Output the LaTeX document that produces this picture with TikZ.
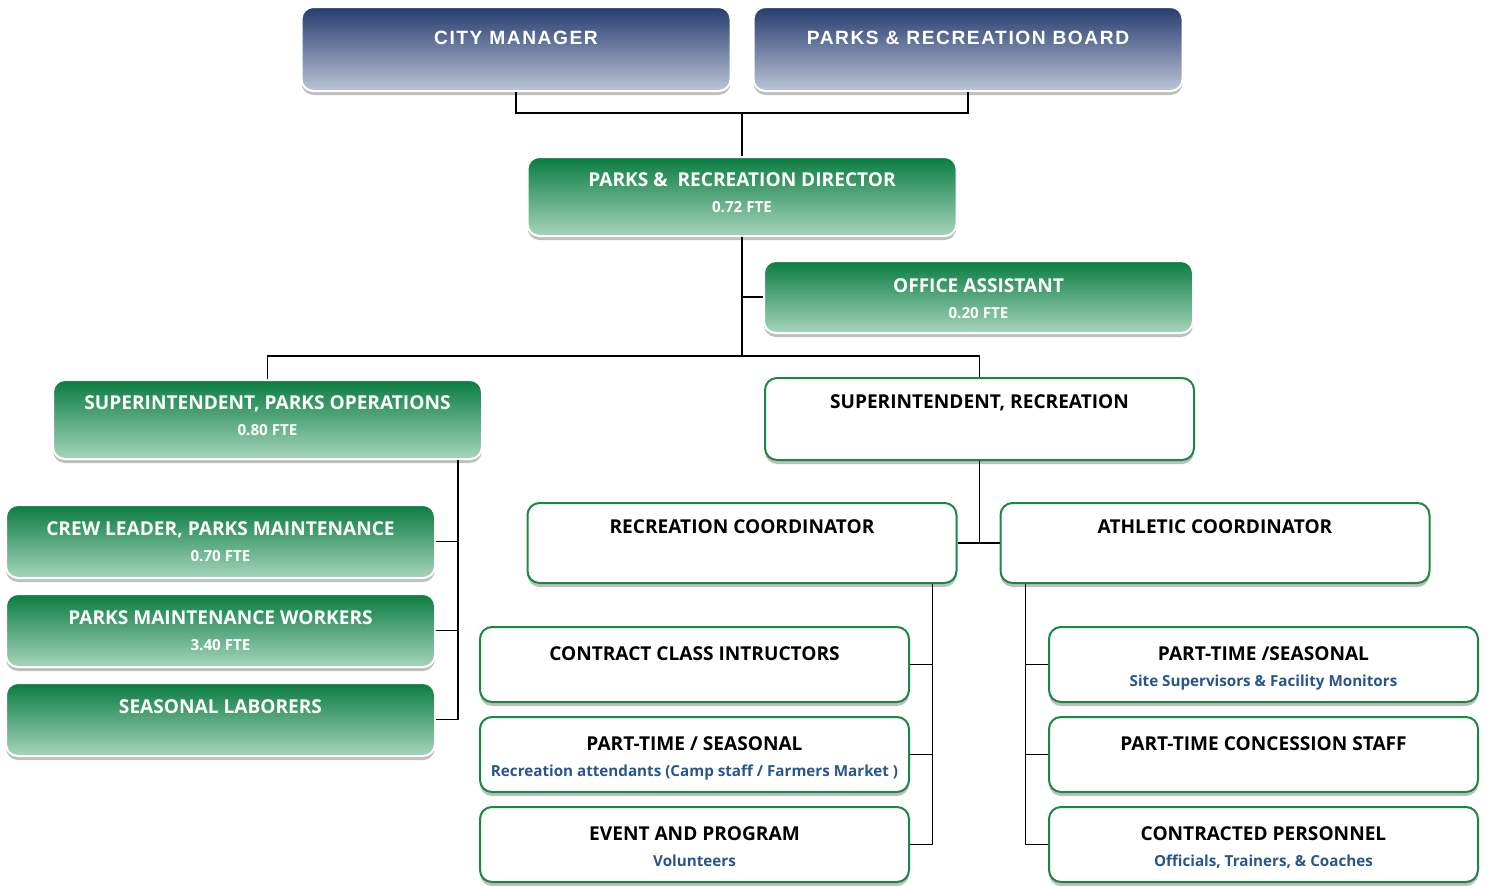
\documentclass[tikz,border=0pt]{standalone}
\usepackage{fontspec}
\setmainfont{Open Sans}
\newfontfamily\hdfont[LetterSpace=8]{Liberation Sans}
\usetikzlibrary{positioning,shadows}
\definecolor{navytop}{RGB}{36,59,110}
\definecolor{navybot}{RGB}{188,197,216}
\definecolor{greentop}{RGB}{10,124,64}
\definecolor{greenbot}{RGB}{166,213,188}
\definecolor{greenline}{RGB}{28,135,68}
\definecolor{subblue}{RGB}{40,85,140}
\tikzstyle{card} = [rectangle, rounded corners=12pt, inner sep=0pt, line width=2pt, drop shadow={shadow xshift=0pt, shadow yshift=-4pt, fill=black!25, opacity=1}]
\tikzstyle{navycard} = [card, draw=white, top color=navytop, bottom color=navybot, text=white, font=\hdfont\bfseries\fontsize{19.2}{22}\selectfont]
\tikzstyle{greencard} = [card, draw=white, top color=greentop, bottom color=greenbot, text=white, font=\bfseries\fontsize{19.1}{22}\selectfont]
\tikzstyle{whitecard} = [card, draw=greenline, fill=white, text=black, font=\bfseries\fontsize{19.1}{22}\selectfont]
\tikzstyle{link} = [line width=1.5pt, black]
\newcommand{\subsize}{\fontsize{15.2}{18}\selectfont}
\newcommand{\cardtext}[4]{\parbox[c][#1][t]{429pt}{\centering\baselineskip=26pt\rule{0pt}{#2}#3\\{\subsize #4}}}

\begin{document}
\begin{tikzpicture}[x=1pt,y=-1pt]
\useasboundingbox (0,0) rectangle (1489,886);
% top of the chart
\node[navycard] (cm) at (516,49) {\cardtext{84pt}{37pt}{CITY MANAGER}{}};
\node[navycard, right=21pt of cm] (board) {\cardtext{84pt}{37pt}{PARKS \& RECREATION BOARD}{}};
\node[greencard] (dir) at (742,196.5) {\cardtext{79pt}{29pt}{PARKS \&~ RECREATION DIRECTOR}{0.72 FTE}};
\node[greencard] (oa) at (978.5,297) {\cardtext{72pt}{31pt}{OFFICE ASSISTANT}{0.20 FTE}};

% superintendents
\node[greencard] (spo) at (267.5,419.5) {\cardtext{79pt}{29pt}{SUPERINTENDENT, PARKS OPERATIONS}{0.80 FTE}};
\node[whitecard] (sr) at (979.5,419) {\cardtext{82pt}{30pt}{SUPERINTENDENT, RECREATION}{}};

% parks side
\node[greencard] (crew) at (220.5,541.5) {\cardtext{73pt}{30pt}{CREW LEADER, PARKS MAINTENANCE}{0.70 FTE}};
\node[greencard, below=14pt of crew] (pmw) {\cardtext{73pt}{30pt}{PARKS MAINTENANCE WORKERS}{3.40 FTE}};
\node[greencard, below=14pt of pmw] (sl) {\cardtext{73pt}{30pt}{SEASONAL LABORERS}{}};

% recreation side
\node[whitecard] (rc) at (742,543) {\cardtext{80pt}{30pt}{RECREATION COORDINATOR}{}};
\node[whitecard, right=42pt of rc] (ac) {\cardtext{80pt}{30pt}{ATHLETIC COORDINATOR}{}};
\node[whitecard] (cci) at (694.5,664.5) {\cardtext{75pt}{33pt}{CONTRACT CLASS INTRUCTORS}{}};
\node[whitecard, below=13pt of cci] (ptsr) {\cardtext{75pt}{33pt}{PART-TIME / SEASONAL}{\color{subblue}Recreation attendants (Camp staff / Farmers Market )}};
\node[whitecard, below=13pt of ptsr] (evp) {\cardtext{75pt}{33pt}{EVENT AND PROGRAM}{\color{subblue}Volunteers}};
\node[whitecard] (ptsa) at (1263.5,664.5) {\cardtext{75pt}{33pt}{PART-TIME /SEASONAL}{\color{subblue}Site Supervisors \& Facility Monitors}};
\node[whitecard, below=13pt of ptsa] (pcs) {\cardtext{75pt}{33pt}{PART-TIME CONCESSION STAFF}{}};
\node[whitecard, below=13pt of pcs] (cpers) {\cardtext{75pt}{33pt}{CONTRACTED PERSONNEL}{\color{subblue}Officials, Trainers, \& Coaches}};

% connectors
\coordinate (topbus) at (742,113);
\coordinate (midbus) at (742,356);
\draw[link] (cm.south) |- (topbus) -| (board.south);
\draw[link] (topbus) -- (dir.north);
\draw[link] (dir.south) -- (midbus);
\draw[link] (oa.west) -- (oa.west -| dir.south);
\draw[link] (spo.north) |- (midbus) -| (sr.north);

\coordinate (pk) at ([xshift=-25pt]spo.south east);
\draw[link] (pk) |- (crew.east);
\draw[link] (pk) |- (pmw.east);
\draw[link] (pk) |- (sl.east);

\draw[link] (sr.south) -- (sr.south |- rc.east);
\draw[link] (rc.east) -- (ac.west);

\coordinate (rk) at ([xshift=-25pt]rc.south east);
\draw[link] (rk) |- (cci.east);
\draw[link] (rk) |- (ptsr.east);
\draw[link] (rk) |- (evp.east);

\coordinate (ak) at ([xshift=26pt]ac.south west);
\draw[link] (ak) |- (ptsa.west);
\draw[link] (ak) |- (pcs.west);
\draw[link] (ak) |- (cpers.west);
\end{tikzpicture}
\end{document}
